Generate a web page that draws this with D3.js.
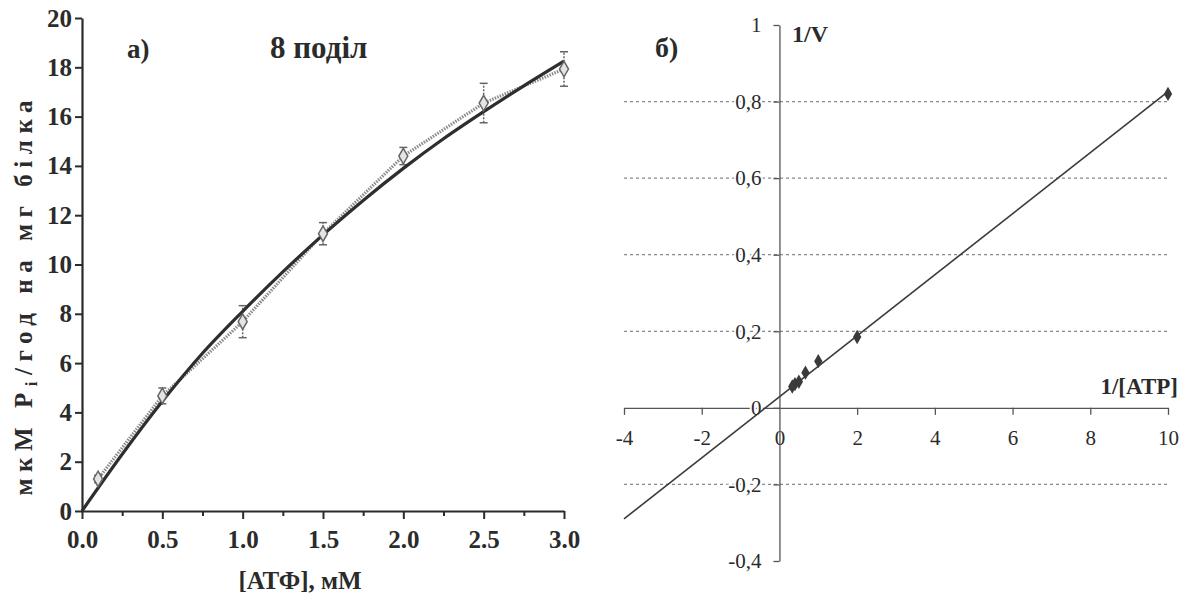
<!DOCTYPE html>
<html>
<head>
<meta charset="utf-8">
<script src="https://cdn.jsdelivr.net/npm/d3@7"></script>
<style>
  body { margin: 0; background: #fff; }
  svg text { font-family: "Liberation Serif", "DejaVu Serif", serif; fill: #2b2b2b; }
</style>
</head>
<body>
<svg id="canvas" width="1188" height="596"></svg>
<script>
// а) швидкість від концентрації АТФ (точки з похибками)
const atp = [0.1, 0.5, 1.0, 1.5, 2.0, 2.5, 3.0]
const rate = [1.3, 4.67, 7.68, 11.25, 14.4, 16.55, 17.93]
const rateErr = [0.15, 0.32, 0.65, 0.45, 0.35, 0.8, 0.7]
// апроксимуюча крива
const fitAtp = [0, 0.25, 0.5, 0.75, 1.0, 1.25, 1.5, 1.75, 2.0, 2.25, 2.5, 2.75, 3.0]
const fitRate = [0, 2.3, 4.45, 6.4, 8.1, 9.7, 11.2, 12.6, 13.9, 15.1, 16.2, 17.25, 18.25]
const xTicksA = [0, 0.5, 1.0, 1.5, 2.0, 2.5, 3.0]
const xMinorA = [0.25, 0.75, 1.25, 1.75, 2.25, 2.75]
const yTicksA = [0, 2, 4, 6, 8, 10, 12, 14, 16, 18, 20]

// б) Лайнувер-Берк
const invAtp = [10, 2, 1, 0.67, 0.5, 0.4, 0.33]
const invRate = [0.82, 0.185, 0.122, 0.092, 0.068, 0.062, 0.056]
const lineX = [-4, 10]
const lineY = [-0.29, 0.826]
const xTicksB = [-4, -2, 0, 2, 4, 6, 8, 10]
const yTicksB = [-0.4, -0.2, 0, 0.2, 0.4, 0.6, 0.8, 1]
const yLabelsB = ["-0,4", "-0,2", "0", "0,2", "0,4", "0,6", "0,8", "1"]
const gridB = [-0.2, 0.2, 0.4, 0.6, 0.8]

const serif = "'Liberation Serif', 'DejaVu Serif', serif"
let canvas = d3.select("#canvas")

//---------------- панель а)
const xA = d3.scaleLinear().domain([0, 3]).range([82, 564])
const yA = d3.scaleLinear().domain([0, 20]).range([511, 18])

const axA = canvas.append("g")
axA.append("g")
    .attr("transform", "translate(0," + yA(0) + ")")
    .call(d3.axisBottom(xA).tickValues(xTicksA).tickSize(8).tickSizeOuter(0).tickPadding(11)
        .tickFormat(d3.format(".1f")))
axA.append("g")
    .attr("transform", "translate(0," + yA(0) + ")")
    .call(d3.axisBottom(xA).tickValues(xMinorA).tickSize(5).tickFormat(""))
    .select(".domain").remove()
axA.append("g")
    .attr("transform", "translate(" + xA(0) + ",0)")
    .call(d3.axisLeft(yA).tickValues(yTicksA).tickSize(7).tickSizeOuter(0).tickPadding(3))
axA.selectAll("g").attr("font-family", serif)
axA.selectAll("path.domain").attr("stroke", "#2b2b2b").attr("stroke-width", 2.2)
axA.selectAll(".tick line").attr("stroke", "#2b2b2b").attr("stroke-width", 2)
axA.selectAll(".tick text")
    .style("font-family", serif)
    .style("font-size", "25px").style("font-weight", "bold").attr("fill", "#2b2b2b")

// пунктирна лінія через точки
const pts = atp.map((d, i) => [d, rate[i], rateErr[i]])
canvas.append("path")
    .datum(pts)
    .attr("fill", "none")
    .attr("stroke", "#8a8a8a")
    .attr("stroke-width", 3.2)
    .attr("stroke-dasharray", "1.5,1.2")
    .attr("d", d3.line().x(d => xA(d[0])).y(d => yA(d[1])))

// похибки
const eb = canvas.append("g").attr("stroke", "#666").attr("stroke-width", 1.5)
eb.selectAll("line.v").data(pts).enter().append("line")
    .attr("x1", d => xA(d[0])).attr("x2", d => xA(d[0]))
    .attr("y1", d => yA(d[1] - d[2])).attr("y2", d => yA(d[1] + d[2]))
    .attr("stroke-dasharray", "2,1.5")
eb.selectAll("line.t").data(pts).enter().append("line")
    .attr("x1", d => xA(d[0]) - 4).attr("x2", d => xA(d[0]) + 4)
    .attr("y1", d => yA(d[1] + d[2])).attr("y2", d => yA(d[1] + d[2]))
eb.selectAll("line.b").data(pts).enter().append("line")
    .attr("x1", d => xA(d[0]) - 4).attr("x2", d => xA(d[0]) + 4)
    .attr("y1", d => yA(d[1] - d[2])).attr("y2", d => yA(d[1] - d[2]))

// крива
canvas.append("path")
    .datum(fitAtp.map((d, i) => [d, fitRate[i]]))
    .attr("fill", "none")
    .attr("stroke", "#2e2e2e")
    .attr("stroke-width", 3.2)
    .attr("d", d3.line().curve(d3.curveMonotoneX).x(d => xA(d[0])).y(d => yA(d[1])))

// маркери
canvas.append("g").selectAll("path").data(pts).enter().append("path")
    .attr("d", d3.symbol().type(d3.symbolDiamond).size(70))
    .attr("transform", d => "translate(" + xA(d[0]) + "," + yA(d[1]) + ")")
    .attr("fill", "#e4e4e4")
    .attr("stroke", "#666")
    .attr("stroke-width", 1.5)

// підписи а)
canvas.append("text").attr("x", 127).attr("y", 58)
    .style("font-size", "27px").style("font-weight", "bold").text("а)")
canvas.append("text").attr("x", 270).attr("y", 58)
    .style("font-size", "31px").style("font-weight", "bold").text("8 поділ")
canvas.append("text").attr("x", 300).attr("y", 589).attr("text-anchor", "middle")
    .style("font-size", "25px").style("font-weight", "bold").text("[АТФ], мМ")
const yl = canvas.append("text")
    .attr("transform", "translate(32,298) rotate(-90)")
    .attr("text-anchor", "middle")
    .attr("textLength", 395).attr("lengthAdjust", "spacing")
    .style("font-size", "25px").style("font-weight", "bold")
yl.append("tspan").text("мкМ P")
yl.append("tspan").attr("dy", 5).style("font-size", "17px").text("i")
yl.append("tspan").attr("dy", -5).text("/год на мг білка")

//---------------- панель б)
const xB = d3.scaleLinear().domain([-4, 10]).range([624, 1168])
const yB = d3.scaleLinear().domain([-0.4, 1]).range([561, 25])

// сітка
canvas.append("g").selectAll("line").data(gridB).enter().append("line")
    .attr("x1", xB(-4)).attr("x2", xB(10) + 2)
    .attr("y1", d => yB(d)).attr("y2", d => yB(d))
    .attr("stroke", "#888").attr("stroke-width", 1.2)
    .attr("stroke-dasharray", "3,3")

const axB = canvas.append("g")
axB.append("g")
    .attr("transform", "translate(0," + yB(0) + ")")
    .call(d3.axisBottom(xB).tickValues(xTicksB.filter(d => d !== 0)).tickSize(7).tickSizeOuter(0).tickFormat(""))
axB.append("g")
    .attr("transform", "translate(0," + yB(0) + ")")
    .call(d3.axisBottom(xB).tickValues(xTicksB).tickSize(0).tickPadding(22).tickFormat(d => d))
    .select(".domain").remove()
axB.append("g")
    .attr("transform", "translate(" + xB(0) + ",0)")
    .call(d3.axisLeft(yB).tickValues(yTicksB).tickSize(6).tickSizeOuter(0).tickPadding(12)
        .tickFormat((d, i) => yLabelsB[i]))
axB.selectAll("g").attr("font-family", serif)
axB.selectAll("path.domain").attr("stroke", "#555").attr("stroke-width", 1.3)
axB.selectAll(".tick line").attr("stroke", "#555").attr("stroke-width", 1.3)
axB.selectAll(".tick text")
    .style("font-family", serif)
    .style("font-size", "21px").attr("fill", "#444")
    .attr("stroke", "#fff").attr("stroke-width", 4).attr("paint-order", "stroke")

// пряма
canvas.append("path")
    .datum(lineX.map((d, i) => [d, lineY[i]]))
    .attr("fill", "none")
    .attr("stroke", "#3a3a3a")
    .attr("stroke-width", 1.6)
    .attr("d", d3.line().x(d => xB(d[0])).y(d => yB(d[1])))

canvas.append("g").selectAll("path").data(invAtp.map((d, i) => [d, invRate[i]])).enter().append("path")
    .attr("d", d3.symbol().type(d3.symbolDiamond).size(60))
    .attr("transform", d => "translate(" + xB(d[0]) + "," + yB(d[1]) + ")")
    .attr("fill", "#3a3a3a")

// підписи б)
canvas.append("text").attr("x", 655).attr("y", 57)
    .style("font-size", "28px").style("font-weight", "bold").text("б)")
canvas.append("text").attr("x", 792).attr("y", 42)
    .style("font-size", "24px").style("font-weight", "bold").text("1/V")
canvas.append("text").attr("x", 1178).attr("y", 394).attr("text-anchor", "end")
    .style("font-size", "23px").style("font-weight", "bold").text("1/[ATP]")
</script>
</body>
</html>
